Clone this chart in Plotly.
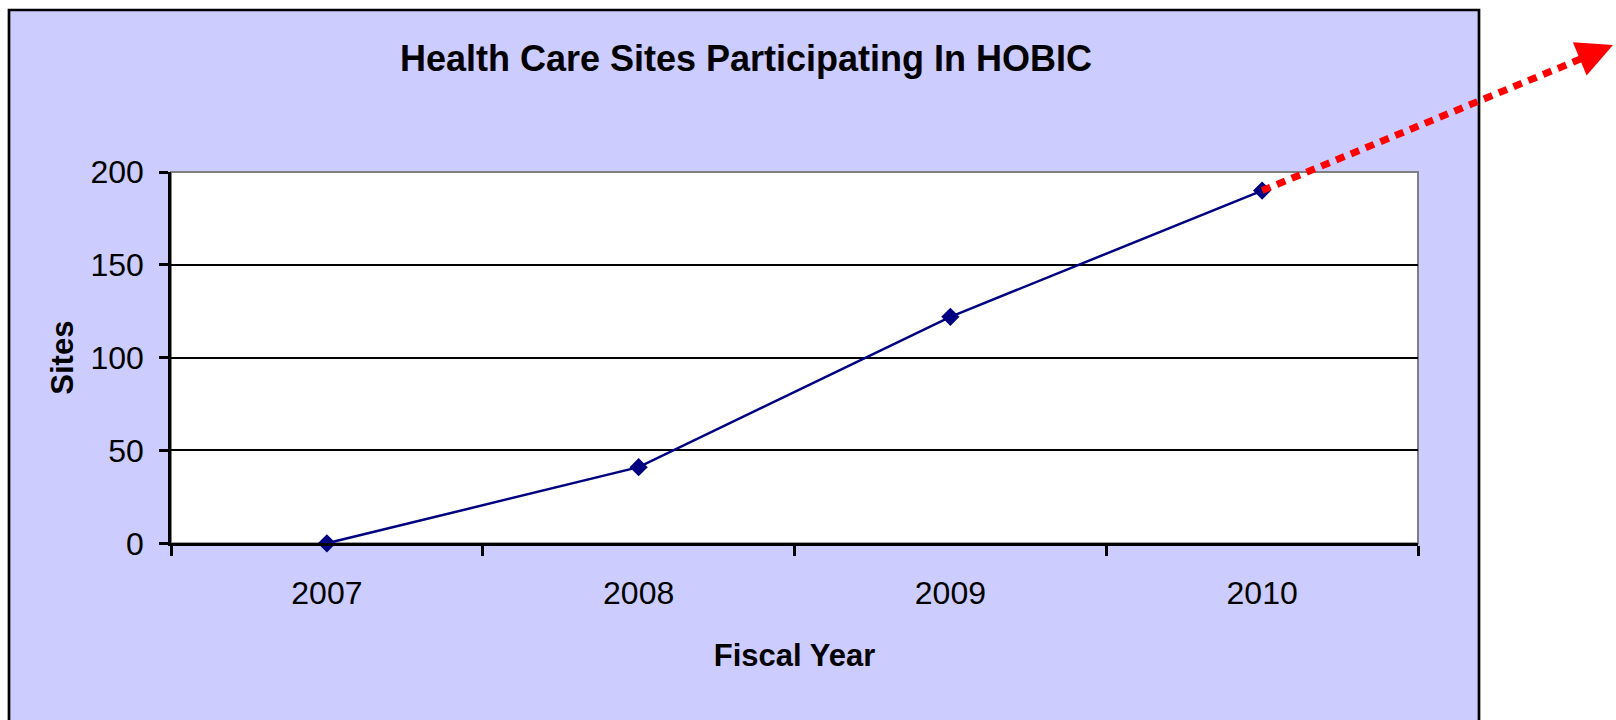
import plotly.graph_objects as go

years = ["2007", "2008", "2009", "2010"]
sites = [0, 41, 122, 190]
y_ticks = [0, 50, 100, 150, 200]

W, H = 1616, 720
FONT = "Liberation Sans, Arial, sans-serif"
XDOM = [171 / W, 1418 / W]
YDOM = [1 - 543.3 / H, 1 - 172 / H]
NAVY = "#000080"

fig = go.Figure()
fig.add_trace(go.Scatter(
    x=years, y=sites, mode="lines+markers",
    line=dict(color=NAVY, width=2.5),
    marker=dict(symbol="diamond", size=14, color=NAVY),
    cliponaxis=False, showlegend=False,
))

# map last data point to paper coords for the arrow start
def to_paper(ix, val):
    px = XDOM[0] + (ix + 0.5) / len(years) * (XDOM[1] - XDOM[0])
    py = YDOM[0] + val / y_ticks[-1] * (YDOM[1] - YDOM[0])
    return px, py

sx, sy = to_paper(len(years) - 1, sites[-1])
ex, ey = 1600 / W, 1 - 51 / H

shapes = [
    dict(type="rect", xref="paper", yref="paper", x0=9 / W, x1=1479 / W, y0=-0.05, y1=1 - 10 / H,
         fillcolor="#CCCCFF", line=dict(color="black", width=2.7), layer="below"),
    dict(type="rect", xref="x domain", yref="y domain", x0=0, x1=1, y0=0, y1=1,
         fillcolor="white", line=dict(color="#808080", width=2), layer="below"),
    dict(type="line", xref="x domain", yref="y domain", x0=0, x1=1, y0=1, y1=1,
         line=dict(color="#808080", width=2), layer="above"),
    dict(type="line", xref="paper", yref="paper", x0=sx, y0=sy, x1=ex, y1=ey,
         line=dict(color="red", width=7, dash="9px,7px"), layer="above"),
]

annotations = [
    dict(x=1613 / W, y=1 - 45 / H, xref="paper", yref="paper", showarrow=True, text="",
         ax=-14, ay=5.8, arrowhead=2, arrowsize=3.6, arrowwidth=2, arrowcolor="red", standoff=0),
]

fig.update_layout(
    width=W, height=H, autosize=False,
    margin=dict(l=0, r=0, t=0, b=0, pad=0, autoexpand=False),
    paper_bgcolor="white", plot_bgcolor="rgba(0,0,0,0)",
    font=dict(family=FONT, color="black"),
    title=dict(text="<b>Health Care Sites Participating In HOBIC</b>",
               x=746 / W, y=1 - 58 / H, xanchor="center", yanchor="middle",
               xref="paper", yref="paper", font=dict(size=36, family=FONT, color="black")),
    shapes=shapes, annotations=annotations,
    xaxis=dict(
        domain=XDOM, type="category", range=[-0.5, 3.5], automargin=False,
        tickson="boundaries", ticks="outside", ticklen=10, tickwidth=2.5, tickcolor="black",
        showline=True, linecolor="black", linewidth=2.5, showgrid=False, zeroline=False,
        tickfont=dict(size=32, family=FONT), ticklabelstandoff=20,
        title=dict(text="<b>Fiscal Year</b>", font=dict(size=31, family=FONT), standoff=34),
    ),
    yaxis=dict(
        domain=YDOM, range=[0, 200], tickvals=y_ticks, automargin=False,
        ticks="outside", ticklen=9, tickwidth=2.5, tickcolor="black",
        showline=True, linecolor="black", linewidth=2.5,
        showgrid=True, gridcolor="black", gridwidth=1.6, zeroline=False,
        tickfont=dict(size=32, family=FONT), ticklabelstandoff=9,
        title=dict(text="<b>Sites</b>", font=dict(size=31, family=FONT), standoff=8),
    ),
)

fig.write_html("out.html", config={"displayModeBar": False},
               post_script="document.body.style.margin='0';document.body.style.overflow='hidden';")
